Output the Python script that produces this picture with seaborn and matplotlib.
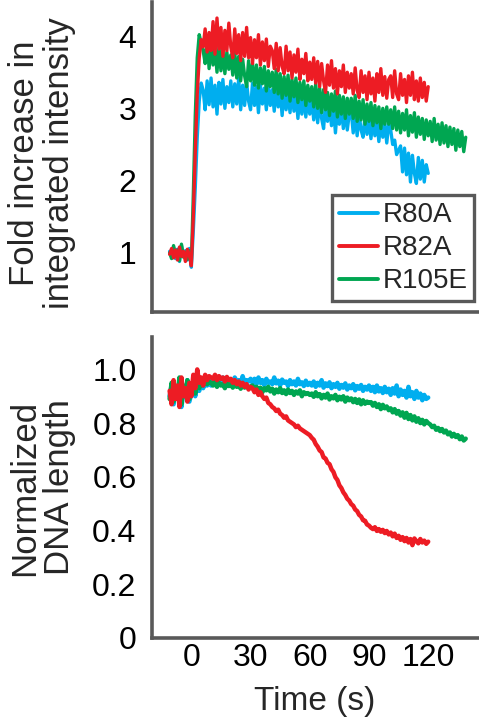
import numpy as np
import pandas as pd
import matplotlib
matplotlib.use("Agg")
import matplotlib.pyplot as plt
from matplotlib.lines import Line2D
import seaborn as sns

# ---------------- data ----------------
t_short = np.arange(-11, 121)   # R80A, R82A sampled every 1 s
t_long = np.arange(-11, 140)    # R105E sampled every 1 s

int_R80A = [1.02, 0.95, 1.08, 0.92, 1.05, 0.88, 1.10, 0.97, 1.03, 0.90, 1.06,
            0.80, 1.30, 1.90, 2.60, 3.10, 3.35, 3.25,
            2.98, 3.38, 3.05, 3.42, 3.02, 3.32, 2.92, 3.36, 3.06, 3.40, 3.00, 3.30, 3.08, 3.38,
            3.02, 3.34, 3.06, 3.42, 2.98, 3.32, 3.04, 3.36, 3.10, 2.98, 3.35, 3.04, 3.30, 2.94, 3.32, 3.06, 3.28, 2.98, 3.32, 3.04,
            3.26, 2.96, 3.30, 3.02, 3.24, 2.90, 3.28, 2.98, 3.22, 2.94, 3.26, 2.96, 3.20, 2.86, 3.18, 2.92, 3.20, 2.88, 3.15, 2.92,
            3.14, 2.84, 3.12, 2.80, 3.10, 2.86, 2.72, 3.08, 2.82, 3.05, 2.76, 3.02, 2.66, 3.00, 2.78, 3.04, 2.72, 2.98, 2.70, 2.92,
            2.96, 2.66, 2.94, 2.62, 2.92, 2.70, 2.60, 2.90, 2.64, 2.88, 2.58, 2.86, 2.62, 2.84, 2.54, 2.82, 2.60, 2.80, 2.52, 2.78,
            2.70, 2.50, 2.56, 2.36, 2.42,
            2.48, 2.12, 2.45, 2.08, 2.38, 1.98, 2.35, 2.10, 1.96, 2.32, 2.02, 2.28, 1.98, 2.22, 2.10]

int_R82A = [0.98, 1.06, 0.93, 1.04, 0.90, 1.08, 0.95, 1.02, 0.88, 1.05, 0.97,
            0.82, 1.50, 2.40, 3.20, 3.70, 3.95, 3.85,
            4.10, 3.78, 4.05, 3.80, 4.20, 3.75, 4.25, 3.82, 4.12, 3.72, 4.08, 3.80, 4.18, 3.85,
            3.70, 4.10, 3.76, 4.02, 3.66, 4.05, 3.72, 4.12, 3.70, 3.98, 3.62, 3.95, 3.70, 4.02, 3.60, 3.92, 3.66, 3.96, 3.58, 3.86,
            3.80, 3.55, 3.90, 3.52, 3.84, 3.58, 3.48, 3.86, 3.52, 3.78, 3.42, 3.74, 3.50, 3.82, 3.40, 3.68, 3.48, 3.76, 3.38, 3.64,
            3.40, 3.70, 3.35, 3.65, 3.30, 3.62, 3.38, 3.22, 3.60, 3.32, 3.66, 3.28, 3.55, 3.20, 3.52, 3.30, 3.60, 3.22, 3.50, 3.28,
            3.48, 3.20, 3.56, 3.25, 3.15, 3.52, 3.22, 3.45, 3.12, 3.50, 3.20, 3.42, 3.10, 3.48, 3.22, 3.55, 3.18, 3.44, 3.14, 3.40,
            3.45, 3.15, 3.52, 3.20, 3.12, 3.48, 3.18, 3.40, 3.08, 3.45, 3.18, 3.50, 3.12, 3.38, 3.10, 3.42, 3.15, 3.36, 3.10, 3.30]

int_R105E = [1.00, 0.92, 1.10, 0.96, 1.04, 0.89, 1.12, 0.94, 1.01, 0.91, 1.03,
             0.86, 1.80, 2.90, 3.70, 4.02, 3.90, 3.80,
             3.62, 3.95, 3.55, 3.90, 3.60, 3.84, 3.50, 3.86, 3.52, 3.80, 3.48, 3.78, 3.54, 3.74,
             3.46, 3.78, 3.42, 3.72, 3.38, 3.68, 3.45, 3.30, 3.66, 3.38, 3.62, 3.32, 3.60, 3.28, 3.56, 3.34, 3.58, 3.24, 3.52, 3.30,
             3.50, 3.22, 3.54, 3.20, 3.48, 3.14, 3.44, 3.18, 3.46, 3.10, 3.40, 3.16, 3.42, 3.08, 3.36, 3.12, 3.38, 3.04, 3.32, 3.10,
             3.30, 3.02, 3.34, 3.00, 3.28, 2.94, 3.26, 2.98, 3.22, 2.90, 3.20, 2.96, 3.24, 2.88, 3.18, 2.92, 3.16, 2.86, 3.14, 2.92,
             3.14, 2.86, 3.18, 2.82, 3.10, 2.84, 3.12, 2.78, 3.06, 2.82, 3.08, 2.76, 3.04, 2.80, 3.02, 2.72, 3.00, 2.78, 3.02, 2.78,
             2.98, 2.72, 3.02, 2.70, 2.96, 2.66, 2.93, 2.70, 2.98, 2.62, 2.90, 2.67, 2.94, 2.60, 2.88, 2.64, 2.86, 2.57, 2.84, 2.62,
             2.82, 2.54, 2.86, 2.56, 2.78, 2.50, 2.80, 2.52, 2.76, 2.47, 2.74, 2.50, 2.72, 2.42, 2.70, 2.47, 2.68, 2.40, 2.60]

len_R80A = [0.90, 0.94, 0.87, 0.93, 0.89, 0.95, 0.86, 0.92, 0.90, 0.96, 0.88,
            0.91, 0.94, 0.90, 0.95, 0.92, 0.96, 0.93, 0.95, 0.94, 0.96, 0.94,
            0.95, 0.97, 0.94, 0.96, 0.95, 0.97, 0.945, 0.965, 0.95, 0.96, 0.94, 0.97, 0.955, 0.96, 0.945, 0.975, 0.95, 0.96, 0.955, 0.965,
            0.95, 0.965, 0.945, 0.97, 0.95, 0.96, 0.94, 0.965, 0.95, 0.955, 0.945, 0.97, 0.948, 0.958, 0.94, 0.962, 0.95, 0.955, 0.938, 0.96,
            0.945, 0.955, 0.94, 0.965, 0.945, 0.952, 0.938, 0.958, 0.942, 0.95,
            0.94, 0.955, 0.935, 0.95, 0.94, 0.96, 0.932, 0.948, 0.938, 0.952, 0.93, 0.945, 0.935, 0.95, 0.928, 0.942, 0.932, 0.948, 0.925, 0.94,
            0.93, 0.945, 0.922, 0.938, 0.928, 0.942, 0.92, 0.935, 0.925, 0.94,
            0.92, 0.935, 0.915, 0.94, 0.918, 0.93, 0.912, 0.935, 0.915, 0.928, 0.905, 0.93, 0.91, 0.94, 0.90, 0.925, 0.905, 0.92, 0.895, 0.935,
            0.90, 0.915, 0.89, 0.92, 0.895, 0.91, 0.885, 0.905, 0.89, 0.895]

len_R82A = [0.92, 0.87, 0.96, 0.89, 0.94, 0.86, 0.97, 0.90, 0.93, 0.88, 0.95,
            0.90, 0.98, 0.93, 1.00, 0.95, 0.97, 0.94, 0.98, 0.96, 0.975, 0.97,
            0.965, 0.98, 0.96, 0.975, 0.965, 0.97, 0.955, 0.972, 0.96, 0.965, 0.95, 0.96, 0.945, 0.955, 0.94, 0.95, 0.935, 0.945, 0.925, 0.935,
            0.93, 0.915, 0.925, 0.905, 0.915, 0.90, 0.89, 0.895, 0.875, 0.87, 0.86, 0.855, 0.845, 0.85, 0.835, 0.83, 0.82, 0.825, 0.81, 0.805,
            0.80, 0.795, 0.785, 0.79, 0.78, 0.775, 0.77, 0.765, 0.76, 0.755,
            0.745, 0.738, 0.722, 0.712, 0.698, 0.692, 0.672, 0.668, 0.652, 0.647, 0.628, 0.618, 0.598, 0.588, 0.568, 0.558, 0.542, 0.532, 0.518, 0.511,
            0.498, 0.492, 0.478, 0.472, 0.458, 0.452, 0.438, 0.436, 0.422, 0.418,
            0.41, 0.405, 0.412, 0.398, 0.405, 0.395, 0.402, 0.39, 0.398, 0.385, 0.392, 0.378, 0.388, 0.372, 0.38, 0.365, 0.375, 0.36, 0.372, 0.355,
            0.368, 0.345, 0.37, 0.36, 0.352, 0.368, 0.355, 0.362, 0.35, 0.358]

len_R105E = [0.89, 0.95, 0.88, 0.93, 0.91, 0.97, 0.87, 0.94, 0.90, 0.96, 0.89,
             0.92, 0.95, 0.91, 0.96, 0.93, 0.95, 0.94, 0.96, 0.945, 0.955, 0.95,
             0.94, 0.955, 0.935, 0.95, 0.94, 0.945, 0.93, 0.95, 0.938, 0.945, 0.932, 0.948, 0.935, 0.942, 0.928, 0.945, 0.932, 0.94, 0.93, 0.937,
             0.94, 0.925, 0.935, 0.92, 0.932, 0.915, 0.93, 0.922, 0.935, 0.918, 0.928, 0.91, 0.925, 0.915, 0.93, 0.912, 0.922, 0.908, 0.925, 0.912,
             0.92, 0.905, 0.918, 0.91, 0.922, 0.90, 0.915, 0.908, 0.912, 0.905,
             0.91, 0.898, 0.915, 0.90, 0.908, 0.892, 0.905, 0.895, 0.91, 0.888, 0.90, 0.892, 0.905, 0.885, 0.898, 0.888, 0.90, 0.88, 0.895, 0.885,
             0.892, 0.878, 0.89, 0.875, 0.888, 0.87, 0.885, 0.872, 0.88, 0.875,
             0.878, 0.865, 0.875, 0.86, 0.87, 0.852, 0.868, 0.855, 0.862, 0.848, 0.855, 0.84, 0.852, 0.835, 0.845, 0.828, 0.84, 0.82, 0.838, 0.815,
             0.83, 0.81, 0.825, 0.805, 0.818, 0.80, 0.812, 0.795, 0.808, 0.80,
             0.795, 0.785, 0.79, 0.775, 0.782, 0.77, 0.778, 0.765, 0.772, 0.758, 0.765, 0.75, 0.76, 0.748, 0.755, 0.74, 0.75, 0.735, 0.742]

labels = ["R80A", "R82A", "R105E"]
colors = {"R80A": "#00AEEF", "R82A": "#ED1C24", "R105E": "#00A651"}
x_ticks = [0, 30, 60, 90, 120]
top_ticks = [1, 2, 3, 4]
bottom_ticks = [0, 0.2, 0.4, 0.6, 0.8, 1.0]
bottom_ticklabels = ["0", "0.2", "0.4", "0.6", "0.8", "1.0"]

# ---------------- long tables ----------------
def build(series):
    frames = []
    for name, t, v in series:
        frames.append(pd.DataFrame({"time": t, "value": v, "mutant": name}))
    return pd.concat(frames, ignore_index=True)

df_int = build([("R80A", t_short, int_R80A), ("R82A", t_short, int_R82A), ("R105E", t_long, int_R105E)])
df_len = build([("R80A", t_short, len_R80A), ("R82A", t_short, len_R82A), ("R105E", t_long, len_R105E)])

# ---------------- styling ----------------
sns.set_style("white")
plt.rcParams["font.family"] = ["Liberation Sans", "DejaVu Sans"]
spine_col = "#595959"

fig = plt.figure(figsize=(4.79, 7.19), dpi=100)
ax1 = fig.add_axes([0.317, 0.566, 0.680, 0.431])
ax2 = fig.add_axes([0.317, 0.113, 0.680, 0.418])

draw_order = ["R80A", "R105E", "R82A"]
for ax, df, lw in ((ax1, df_int, 2.4), (ax2, df_len, 3.2)):
    for name in draw_order:
        sub = df[df["mutant"] == name]
        sns.lineplot(data=sub, x="time", y="value", ax=ax, color=colors[name],
                     linewidth=lw, legend=False, estimator=None)
    ax.set_xlim(-20, 145)
    ax.set_xticks(x_ticks)
    for side in ("top", "right"):
        ax.spines[side].set_visible(False)
    for side in ("left", "bottom"):
        ax.spines[side].set_color(spine_col)
        ax.spines[side].set_linewidth(2.6)
    ax.tick_params(direction="in", length=4, width=2.2, color=spine_col,
                   labelsize=23, labelcolor="black")
    ax.tick_params(axis="y", pad=11)
    ax.tick_params(axis="x", pad=4)
    ax.set_xlabel("")

ax1.set_ylim(0.18, 4.47)
ax1.set_yticks(top_ticks)
ax1.set_xticklabels([])
ax1.set_ylabel("Fold increase in\nintegrated intensity", fontsize=25, linespacing=1.1)
ax1.yaxis.set_label_coords(-0.232, 0.48)

ax2.set_ylim(0, 1.12)
ax2.set_yticks(bottom_ticks)
ax2.set_yticklabels(bottom_ticklabels)
ax2.set_xticklabels([str(v) for v in x_ticks])
ax2.set_ylabel("Normalized\nDNA length", fontsize=25, linespacing=1.1)
ax2.yaxis.set_label_coords(-0.232, 0.50)
ax2.set_xlabel("Time (s)", fontsize=24, labelpad=9)

handles = [Line2D([0], [0], color=colors[n], linewidth=2.8) for n in labels]
leg = ax1.legend(handles, labels, loc="lower right", bbox_to_anchor=(0.99, 0.035),
                 fontsize=20, frameon=True, fancybox=False, handlelength=1.4,
                 handletextpad=0.15, borderpad=0.25, labelspacing=0.25,
                 borderaxespad=0.0)
leg.get_frame().set_edgecolor(spine_col)
leg.get_frame().set_linewidth(2.4)
leg.get_frame().set_alpha(1.0)

fig.savefig("out.png", dpi=100)
